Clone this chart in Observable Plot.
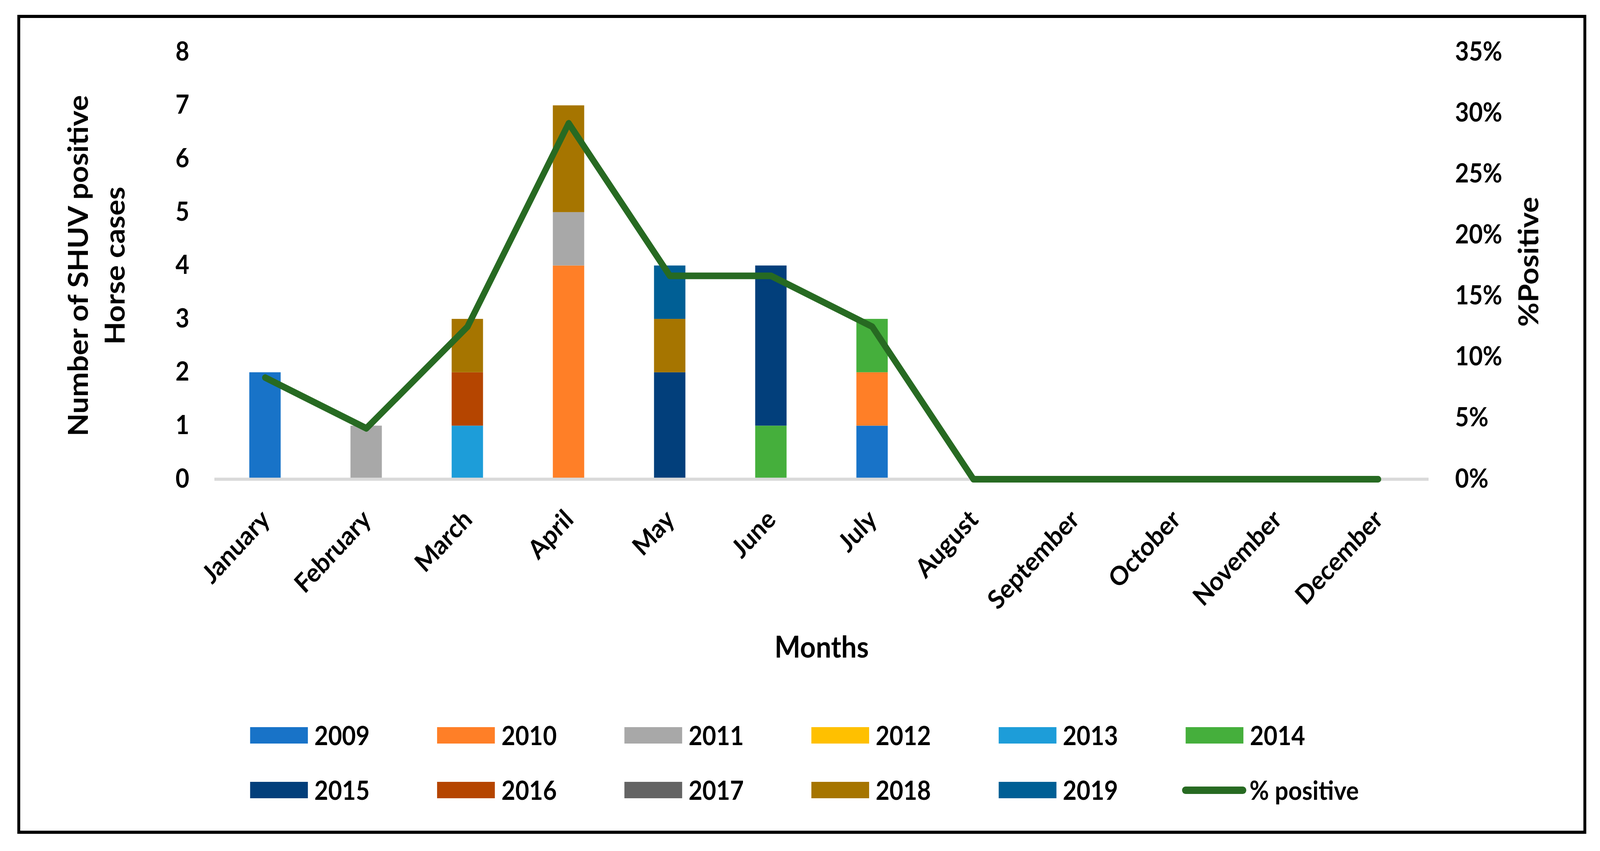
<!DOCTYPE html>
<html>
<head>
<meta charset="utf-8">
<script src="https://cdn.jsdelivr.net/npm/d3@7"></script>
<script src="https://cdn.jsdelivr.net/npm/@observablehq/plot@0.6"></script>
<style>
html, body { margin: 0; padding: 0; background: #fff; overflow: hidden; }
#page { position: absolute; left: 0; top: 0; width: 4433px; height: 2178px; transform-origin: 0 0; font-family: Lato, "Open Sans", sans-serif; font-weight: bold; background: #fff; }
#chart { position: absolute; left: 0; top: 0; }
#frame { position: absolute; left: 48px; top: 38px; width: 4347px; height: 2096px; box-sizing: border-box; border: 8px solid #000; pointer-events: none; z-index: 5; }
#legend { position: absolute; left: 693px; top: 1812px; display: grid; grid-template-columns: repeat(6, 518.4px); grid-auto-rows: 140px; }
.item { display: flex; align-items: center; font-size: 66px; line-height: 1; color: #000; white-space: nowrap; }
.sw { width: 160px; height: 42px; margin-right: 18px; flex: none; }
.ln { width: 178px; height: 19px; border-radius: 10px; margin-left: -10px; margin-right: 9px; flex: none; }
</style>
</head>
<body>
<div id="page">
<div id="chart"></div>
<div id="legend"></div>
<div id="frame"></div>
</div>
<script>
const months = ["January","February","March","April","May","June","July","August","September","October","November","December"];
const years = ["2009","2010","2011","2012","2013","2014","2015","2016","2017","2018","2019"];
const yearColors = ["#1873c8","#ff7f27","#a8a8a8","#ffc000","#1d9dd9","#45af3c","#023f7b","#b54500","#646464","#a67500","#005f95"];

// cases per month (Jan..Dec) for each year
const cases2009 = [2,0,0,0,0,0,1,0,0,0,0,0];
const cases2010 = [0,0,0,4,0,0,1,0,0,0,0,0];
const cases2011 = [0,1,0,1,0,0,0,0,0,0,0,0];
const cases2012 = [0,0,0,0,0,0,0,0,0,0,0,0];
const cases2013 = [0,0,1,0,0,0,0,0,0,0,0,0];
const cases2014 = [0,0,0,0,0,1,1,0,0,0,0,0];
const cases2015 = [0,0,0,0,2,3,0,0,0,0,0,0];
const cases2016 = [0,0,1,0,0,0,0,0,0,0,0,0];
const cases2017 = [0,0,0,0,0,0,0,0,0,0,0,0];
const cases2018 = [0,0,1,2,1,0,0,0,0,0,0,0];
const cases2019 = [0,0,0,0,1,0,0,0,0,0,0,0];

const pctPositive = [0.0833,0.0417,0.125,0.2917,0.1667,0.1667,0.125,0,0,0,0,0];

const leftTicks = [0,1,2,3,4,5,6,7,8];
const rightTicks = [0,0.05,0.10,0.15,0.20,0.25,0.30,0.35];

const lineColor = "#276a22";
const lineLabel = "% positive";
const yTitle = "Number of SHUV positive\nHorse cases";
const y2Title = "%Positive";
const xTitle = "Months";

const countMax = 8, pctMax = 0.35;
const toCount = p => p * countMax / pctMax;

const series = [cases2009,cases2010,cases2011,cases2012,cases2013,cases2014,cases2015,cases2016,cases2017,cases2018,cases2019];
const table = [];
months.forEach((m, mi) => {
  years.forEach((yr, yi) => {
    const v = series[yi][mi];
    if (v > 0) table.push({month: m, year: yr, count: v});
  });
});
const pctData = months.map((m, i) => ({month: m, pct: pctPositive[i]}));

const W = 4433, H = 1760;
const chart = Plot.plot({
  width: W,
  height: H,
  marginLeft: 594,
  marginRight: W - 3958,
  marginTop: 133,
  marginBottom: H - 1226,
  style: {fontFamily: "Lato, 'Open Sans', sans-serif", fontWeight: "bold", fontSize: "66px", color: "#000", background: "transparent", maxWidth: "none"},
  x: {type: "band", domain: months, paddingInner: 0.69, paddingOuter: 0.345, round: false, axis: null},
  y: {domain: [0, countMax], axis: null},
  color: {domain: years, range: yearColors},
  marks: [
    Plot.barY(table, {x: "month", y: "count", fill: "year"}),
    Plot.ruleY([0], {stroke: "#d9d9d9", strokeWidth: 8}),
    Plot.lineY(pctData, {x: "month", y: d => toCount(d.pct), stroke: lineColor, strokeWidth: 17, strokeLinecap: "round", strokeLinejoin: "round"}),
    Plot.axisY({anchor: "left", ticks: leftTicks, tickSize: 0, tickPadding: 70, tickFormat: d => String(d), label: null, fill: "#000"}),
    Plot.axisY({anchor: "right", ticks: rightTicks.map(toCount), tickSize: 0, tickPadding: 73, tickFormat: d => Math.round(d * pctMax / countMax * 100) + "%", label: null, fill: "#000"}),
    Plot.text(months, {x: d => d, frameAnchor: "bottom", rotate: -45, textAnchor: "end", lineAnchor: "bottom", dx: 17, dy: 107, fontSize: 67, fill: "#000"}),
    Plot.text([yTitle], {frameAnchor: "left", rotate: -90, dx: -333, textAnchor: "middle", lineAnchor: "middle", lineHeight: 1.34, fontSize: 76, fill: "#000"}),
    Plot.text([y2Title], {frameAnchor: "right", rotate: -90, dx: 279, dy: -10, textAnchor: "middle", lineAnchor: "middle", fontSize: 76, fill: "#000"}),
    Plot.text([xTitle], {frameAnchor: "bottom", dy: 432, textAnchor: "middle", lineAnchor: "middle", fontSize: 76, fill: "#000"})
  ]
});
document.getElementById("chart").appendChild(chart);

const legend = document.getElementById("legend");
years.forEach((yr, i) => {
  const item = document.createElement("div");
  item.className = "item";
  const sw = document.createElement("div");
  sw.className = "sw";
  sw.style.background = yearColors[i];
  const t = document.createElement("span");
  t.textContent = yr;
  item.appendChild(sw);
  item.appendChild(t);
  legend.appendChild(item);
});
{
  const item = document.createElement("div");
  item.className = "item";
  const ln = document.createElement("div");
  ln.className = "ln";
  ln.style.background = lineColor;
  const t = document.createElement("span");
  t.textContent = lineLabel;
  item.appendChild(ln);
  item.appendChild(t);
  legend.appendChild(item);
}

// The browser viewport may be narrower than the 4433×2178 design; fit the design to it.
function fit() {
  const sx = window.innerWidth / 4433, sy = window.innerHeight / 2178;
  document.getElementById("page").style.transform = `scale(${sx}, ${sy})`;
}
fit();
window.addEventListener("resize", fit);
</script>
</body>
</html>
